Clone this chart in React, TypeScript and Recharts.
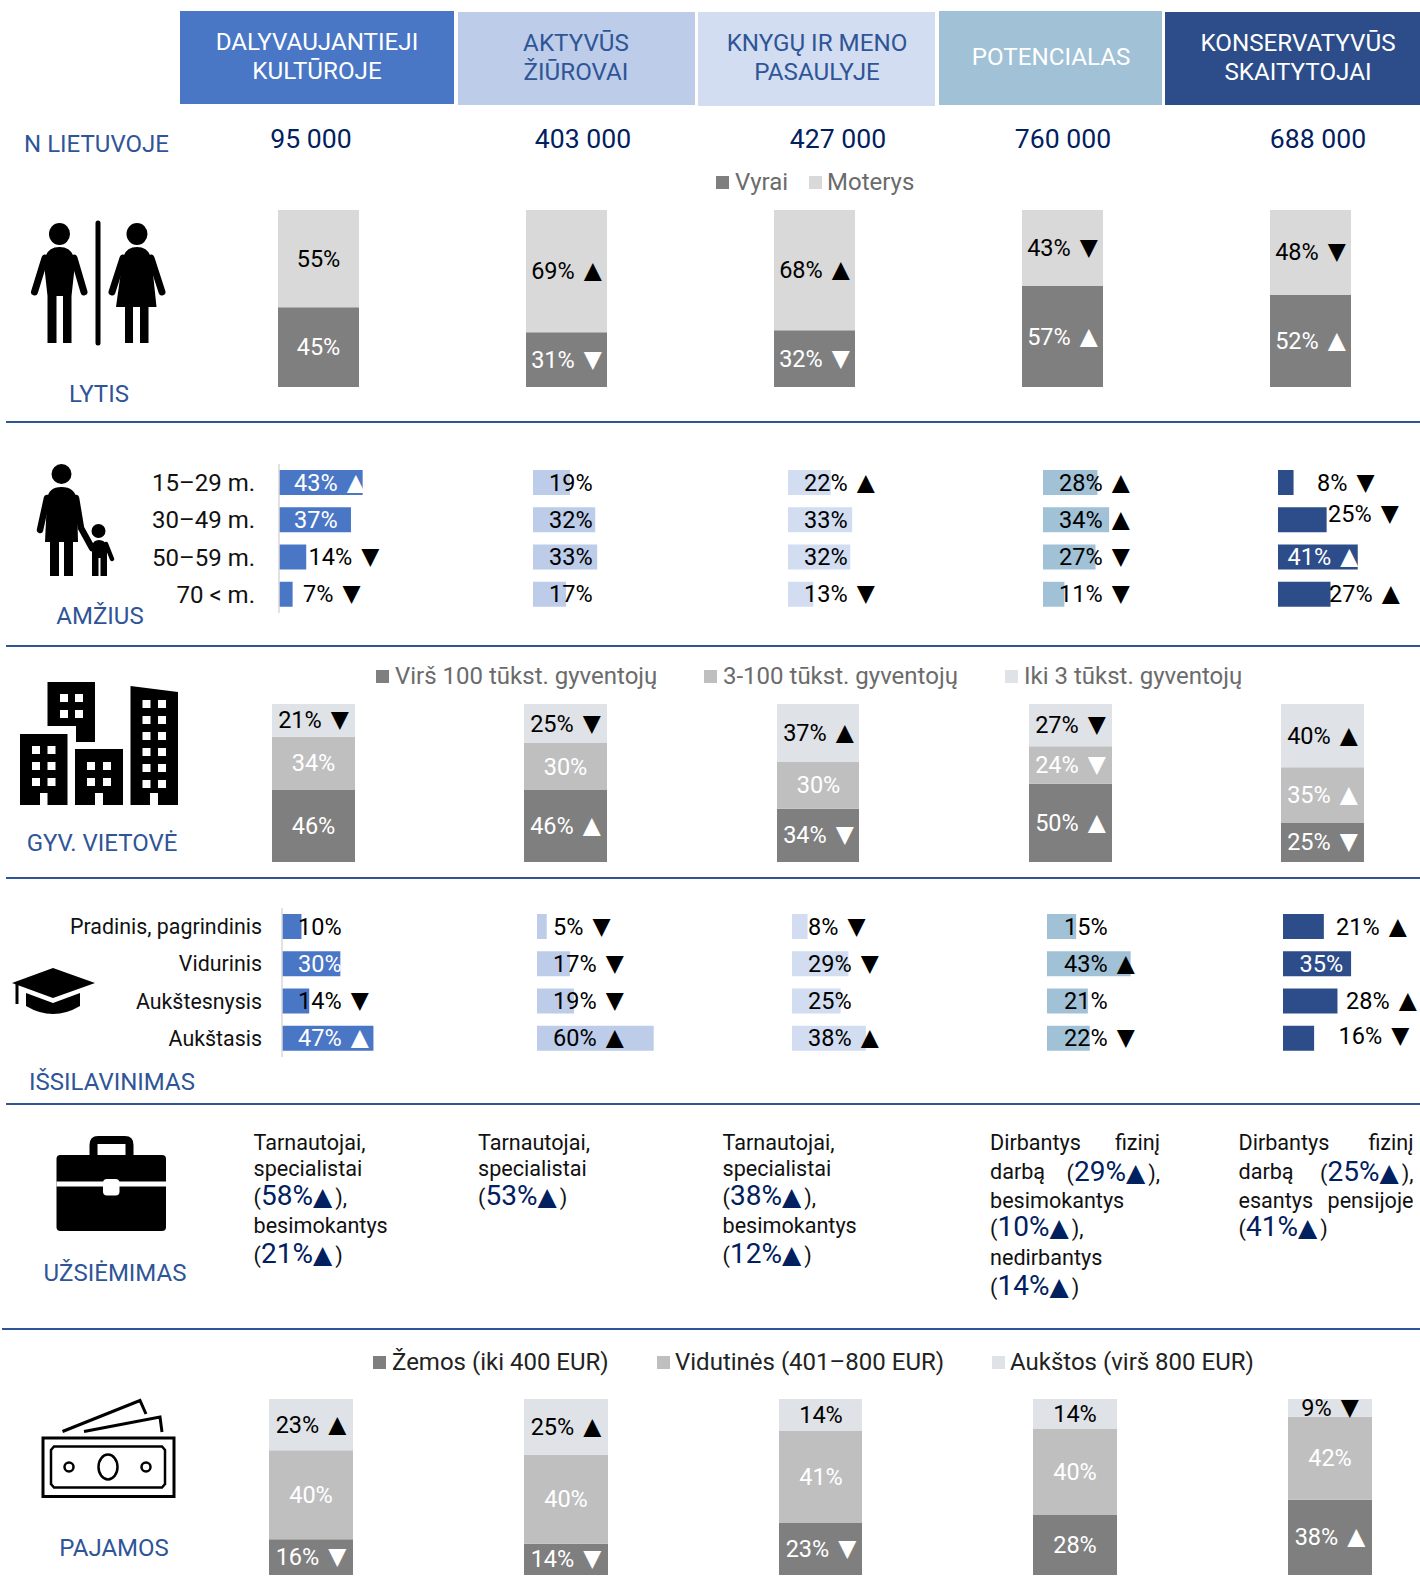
import React from 'react';
import { BarChart, Bar, XAxis, YAxis, LabelList } from 'recharts';

const UP = '▲';
const DOWN = '▼';
const NO = '';

const segments = ['DALYVAUJANTIEJI\nKULTŪROJE', 'AKTYVŪS\nŽIŪROVAI', 'KNYGŲ IR MENO\nPASAULYJE', 'POTENCIALAS', 'KONSERVATYVŪS\nSKAITYTOJAI'];
const populations = ['95 000', '403 000', '427 000', '760 000', '688 000'];

const men = [45, 31, 32, 57, 52];
const women = [55, 69, 68, 43, 48];
const menTrend = [NO, DOWN, DOWN, UP, UP];
const womenTrend = [NO, UP, UP, DOWN, DOWN];

const ageGroups = ['15–29 m.', '30–49 m.', '50–59 m.', '70 < m.'];
const ageValues = [
  [43, 37, 14, 7],
  [19, 32, 33, 17],
  [22, 33, 32, 13],
  [28, 34, 27, 11],
  [8, 25, 41, 27],
];
const ageTrends = [
  [UP, NO, DOWN, DOWN],
  [NO, NO, NO, NO],
  [UP, NO, NO, DOWN],
  [UP, UP, DOWN, DOWN],
  [DOWN, DOWN, UP, UP],
];

const cityBig = [46, 46, 34, 50, 25];
const cityMid = [34, 30, 30, 24, 35];
const citySmall = [21, 25, 37, 27, 40];
const cityBigTrend = [NO, UP, DOWN, UP, DOWN];
const cityMidTrend = [NO, NO, NO, DOWN, UP];
const citySmallTrend = [DOWN, DOWN, UP, DOWN, UP];

const eduLevels = ['Pradinis, pagrindinis', 'Vidurinis', 'Aukštesnysis', 'Aukštasis'];
const eduValues = [
  [10, 30, 14, 47],
  [5, 17, 19, 60],
  [8, 29, 25, 38],
  [15, 43, 21, 22],
  [21, 35, 28, 16],
];
const eduTrends = [
  [NO, NO, DOWN, UP],
  [DOWN, DOWN, DOWN, UP],
  [DOWN, DOWN, NO, UP],
  [NO, UP, NO, DOWN],
  [UP, NO, UP, DOWN],
];

const jobLines = [
  ['Tarnautojai,', 'specialistai', '(58%▲),', 'besimokantys', '(21%▲)'],
  ['Tarnautojai,', 'specialistai', '(53%▲)'],
  ['Tarnautojai,', 'specialistai', '(38%▲),', 'besimokantys', '(12%▲)'],
  ['Dirbantys  fizinį', 'darbą  (29%▲),', 'besimokantys', '(10%▲),', 'nedirbantys', '(14%▲)'],
  ['Dirbantys  fizinį', 'darbą  (25%▲),', 'esantys  pensijoje', '(41%▲)'],
];

const incomeLow = [16, 14, 23, 28, 38];
const incomeMid = [40, 40, 41, 40, 42];
const incomeHigh = [23, 25, 14, 14, 9];
const incomeLowTrend = [DOWN, DOWN, DOWN, NO, UP];
const incomeMidTrend = [NO, NO, NO, NO, NO];
const incomeHighTrend = [UP, UP, NO, NO, DOWN];

// layout
const NAVY = '#2f5597';
const DARK = '#002060';
const TEXT = '#111111';
const FONT = 'Roboto, sans-serif';
const ARROW_FONT = '"DejaVu Sans", sans-serif';
const headerBoxes = [
  { x: 180, y: 11, w: 274, h: 93, fill: '#4a76c6', color: '#ffffff', cx: 317 },
  { x: 458, y: 12, w: 237, h: 93, fill: '#bccce9', color: NAVY, cx: 576 },
  { x: 698, y: 12, w: 237, h: 94, fill: '#d2ddf1', color: NAVY, cx: 817 },
  { x: 939, y: 11, w: 223, h: 94, fill: '#a1c1d6', color: '#ffffff', cx: 1051 },
  { x: 1165, y: 12, w: 255, h: 93, fill: '#2c4d89', color: '#ffffff', cx: 1298 },
];
const populationX = [311, 583, 838, 1063, 1318];
const barFills = ['#4a76c6', '#bccce9', '#d2ddf1', '#a1c1d6', '#2c4d89'];
const ageOrigin = [278.5, 533, 787.5, 1042.5, 1278];
const eduOrigin = [282, 536.5, 792, 1047, 1283];
const ageLabelX = [[15, 15, 29.5, 24], [16, 16, 16, 16], [16, 16, 16, 16], [16, 16, 16, 16], [39, 50, 9.5, 51]];
const ageLabelDy = [[0, 0, 0, 0], [0, 0, 0, 0], [0, 0, 0, 0], [0, 0, 0, 0], [0, -6, 0, 0]];
const ageLabelFill = [[1, 1, 0, 0], [0, 0, 0, 0], [0, 0, 0, 0], [0, 0, 0, 0], [0, 0, 1, 0]];
const eduLabelX = [[16, 16, 16, 16], [16, 16, 16, 16], [16, 16, 16, 16], [17, 17, 17, 17], [53, 16.5, 63, 55.5]];
const eduLabelDy = [[0, 0, 0, 0], [0, 0, 0, 0], [0, 0, 0, 0], [0, 0, 0, 0], [0, 0, 0, -2]];
const eduLabelFill = [[0, 1, 0, 1], [0, 0, 0, 0], [0, 0, 0, 0], [0, 0, 0, 0], [0, 1, 0, 0]];
const jobX = [253.5, 478, 722.5, 990, 1238.5];
const jobWidth = [170, 170, 170, 170, 175];
const jobLineY = [
  [1142, 1168, 1197, 1225, 1255],
  [1142, 1168, 1197],
  [1142, 1168, 1197, 1225, 1255],
  [1142, 1173, 1200, 1228, 1257, 1287],
  [1142, 1173, 1200, 1228],
];
const dividers = [{ y: 422, x: 6 }, { y: 646, x: 6 }, { y: 878, x: 6 }, { y: 1104, x: 6 }, { y: 1329, x: 2 }];

const sectionLabels = [
  { text: 'N LIETUVOJE', cx: 96.5, y: 144 },
  { text: 'LYTIS', cx: 99, y: 394 },
  { text: 'AMŽIUS', cx: 100, y: 616 },
  { text: 'GYV. VIETOVĖ', cx: 102, y: 843 },
  { text: 'IŠSILAVINIMAS', cx: 112, y: 1082 },
  { text: 'UŽSIĖMIMAS', cx: 115, y: 1273 },
  { text: 'PAJAMOS', cx: 114, y: 1548 },
];

const legends = [
  { y: 182, color: '#6b6b6b', items: [
    { text: 'Vyrai', sq: 716, x: 735, fill: '#7f7f7f' },
    { text: 'Moterys', sq: 809, x: 827, fill: '#d9d9d9' },
  ] },
  { y: 676, color: '#6b6b6b', items: [
    { text: 'Virš 100 tūkst. gyventojų', sq: 376, x: 395, fill: '#7f7f7f' },
    { text: '3-100 tūkst. gyventojų', sq: 704, x: 723, fill: '#bfbfbf' },
    { text: 'Iki 3 tūkst. gyventojų', sq: 1005, x: 1024, fill: '#dfe2e6' },
  ] },
  { y: 1362, color: '#222222', items: [
    { text: 'Žemos (iki 400 EUR)', sq: 373, x: 392, fill: '#7f7f7f' },
    { text: 'Vidutinės (401–800 EUR)', sq: 657, x: 675, fill: '#bfbfbf' },
    { text: 'Aukštos (virš 800 EUR)', sq: 992, x: 1010, fill: '#dfe2e6' },
  ] },
];

function PercentText({ x, y, value, trend, fill, anchor }: any) {
  return (
    <text x={x} y={y} textAnchor={anchor} dominantBaseline="central" fontFamily={FONT} fontSize={23.5} fill={fill}>
      {value}%
      {trend ? (
        <tspan dx={9} dy={-1} fontFamily={ARROW_FONT} fontSize={23.5}>
          {trend}
        </tspan>
      ) : null}
    </text>
  );
}

const STACK_PAD = 8;

function StackColumn({ left, top, width, height, series, index }: any) {
  const row: any = { name: 'c' };
  series.forEach((s: any) => {
    row[s.key] = s.values[index];
  });
  return (
    <div style={{ position: 'absolute', left, top: top - STACK_PAD, width, height: height + STACK_PAD * 2 }}>
      <BarChart
        width={width}
        height={height + STACK_PAD * 2}
        data={[row]}
        stackOffset="expand"
        barCategoryGap={0}
        margin={{ top: STACK_PAD, right: 0, bottom: STACK_PAD, left: 0 }}
      >
        <XAxis dataKey="name" hide />
        <YAxis hide domain={[0, 1]} />
        {series.map((s: any) => (
          <Bar key={s.key} dataKey={s.key} stackId="a" fill={s.fill} isAnimationActive={false}>
            <LabelList
              dataKey={s.key}
              content={(p: any) => {
                const box = p.viewBox && p.viewBox.width !== undefined ? p.viewBox : p;
                return (
                  <PercentText
                    x={box.x + box.width / 2}
                    y={box.y + box.height / 2}
                    value={s.values[index]}
                    trend={s.trends[index]}
                    fill={s.labelFill}
                    anchor="middle"
                  />
                );
              }}
            />
          </Bar>
        ))}
      </BarChart>
    </div>
  );
}

const HBAR_WIDTH = 142;

function RowBars({ origin, top, categories, values, trends, fill, labelX, labelDy, labelFill, axisWidth, tickSize, tickGap }: any) {
  const data = categories.map((name: string, i: number) => ({ name, value: values[i] }));
  const lead = axisWidth || 0;
  return (
    <div style={{ position: 'absolute', left: origin - lead, top, width: HBAR_WIDTH + lead, height: 149 }}>
      <BarChart
        width={HBAR_WIDTH + lead}
        height={149}
        data={data}
        layout="vertical"
        barSize={25}
        margin={{ top: 0, right: 0, bottom: 0, left: 0 }}
      >
        <XAxis type="number" domain={[0, 73]} hide />
        {axisWidth ? (
          <YAxis
            type="category"
            dataKey="name"
            width={axisWidth}
            interval={0}
            tickLine={false}
            tickSize={0}
            tickMargin={tickGap}
            axisLine={{ stroke: '#d9d9d9', strokeWidth: 1.5 }}
            tick={{ fontFamily: FONT, fontSize: tickSize, fill: TEXT }}
          />
        ) : (
          <YAxis type="category" dataKey="name" hide />
        )}
        <Bar dataKey="value" fill={fill} isAnimationActive={false}>
          <LabelList
            dataKey="value"
            content={(p: any) => {
              const box = p.viewBox && p.viewBox.width !== undefined ? p.viewBox : p;
              const i = p.index;
              return (
                <PercentText
                  x={box.x + labelX[i]}
                  y={box.y + box.height / 2 + labelDy[i]}
                  value={values[i]}
                  trend={trends[i]}
                  fill={labelFill[i] ? '#ffffff' : '#000000'}
                  anchor="start"
                />
              );
            }}
          />
        </Bar>
      </BarChart>
    </div>
  );
}

function JobLine({ text, x, y, width }: any) {
  const parts = text.split(/\s{2,}/);
  const lift = text.includes('%') ? 2 : 0;
  const renderPart = (part: string, k: number) => (
    <span key={k}>
      {part.split(/(\d+%▲)/).map((bit, j) =>
        /%▲/.test(bit) ? (
          <span key={j} style={{ color: DARK, fontSize: 28 }}>
            {bit.replace('▲', '')}
            <span style={{ fontFamily: ARROW_FONT, fontSize: 25, marginRight: 3 }}>▲</span>
          </span>
        ) : (
          <span key={j}>{bit}</span>
        ),
      )}
    </span>
  );
  return (
    <div
      style={{
        position: 'absolute',
        left: x,
        top: y - 20 - lift,
        width,
        height: 40,
        display: 'flex',
        alignItems: 'center',
        justifyContent: 'space-between',
        fontSize: 21.6,
        color: TEXT,
        whiteSpace: 'nowrap',
      }}
    >
      {parts.map(renderPart)}
    </div>
  );
}

function Icons() {
  const cityWindows = [
    [60, 694], [75, 694], [60, 710], [75, 710],
    [32, 746], [47.5, 746], [32, 762], [47.5, 762], [32, 778], [47.5, 778],
    [87, 762], [103, 762], [87, 778], [103, 778],
    [142.5, 700], [158, 700], [142.5, 716], [158, 716], [142.5, 732], [158, 732],
    [142.5, 748], [158, 748], [142.5, 764], [158, 764], [142.5, 780], [158, 780],
  ];
  return (
    <svg width={1420} height={1578} style={{ position: 'absolute', left: 0, top: 0, pointerEvents: 'none' }}>
      {/* man, divider, woman */}
      <ellipse cx={59.5} cy={234} rx={10.5} ry={11} />
      <path d="M44 264 Q45 247 59.5 247 Q74 247 75 264 L71.5 296 V343 H63 V296 H56.5 V343 H47.5 V296 Z" />
      <path d="M45 258 L34.5 292 M74 258 L84 292" stroke="#000" strokeWidth={7} strokeLinecap="round" />
      <path d="M98 223 V343" stroke="#000" strokeWidth={5} strokeLinecap="round" />
      <ellipse cx={137} cy={234} rx={10.5} ry={11} />
      <path d="M122 264 Q123 247 137 247 Q151 247 152 264 L156.5 307 H148.5 V343 H140 V307 H133 V343 H125 V307 H116 Z" />
      <path d="M123 258 L112 292 M151 258 L162 292" stroke="#000" strokeWidth={7} strokeLinecap="round" />
      {/* mother and child */}
      <circle cx={61.5} cy={474} r={10} />
      <path d="M47 500 Q48 487 61.5 487 Q75 487 77 500 L78 542 H73 V576 H64 V542 H59 V576 H50 V542 H45 Z" />
      <path d="M47 498 L40 530 M76 498 L81 528 L92 548" stroke="#000" strokeWidth={6.5} strokeLinecap="round" fill="none" />
      <circle cx={98.5} cy={531} r={7} />
      <path d="M92 546 Q93 540 99 540 Q105 540 107 546 V576 H100.5 V558 H98.5 V576 H92 Z" />
      <path d="M106 544 L112 559" stroke="#000" strokeWidth={4.5} strokeLinecap="round" />
      {/* buildings */}
      <path d="M47.5 682 H95 V742 H76 V726 H47.5 Z" />
      <path d="M20 734 H67.5 V805 H47.5 V793 H40 V805 H20 Z" />
      <path d="M75 749 H123 V805 H103 V793 H95 V805 H75 Z" />
      <path d="M130.5 686 L178 692 V805 H158 V793 H150 V805 H130.5 Z" />
      {cityWindows.map(([x, y], i) => (
        <rect key={i} x={x} y={y} width={8} height={8} fill="#fff" />
      ))}
      {/* mortarboard */}
      <path d="M12 983 L53 968 L95 983 L53 998 Z" />
      <path d="M26 993 L53 1003 L80 993 V1006 Q53 1022 26 1006 Z" />
      <path d="M17 984 V1004" stroke="#000" strokeWidth={3} />
      {/* briefcase */}
      <rect x={56.5} y={1155} width={109.5} height={76} rx={4} />
      <rect x={56.5} y={1181.5} width={109.5} height={5} fill="#fff" />
      <path d="M93.5 1156 V1145 Q93.5 1140 98 1140 H125 Q129.5 1140 129.5 1145 V1156" fill="none" stroke="#000" strokeWidth={8} />
      <rect x={103} y={1179} width={16.5} height={16.5} rx={4} fill="#fff" />
      {/* banknotes */}
      <rect x={43} y={1438} width={131} height={58.5} fill="none" stroke="#000" strokeWidth={3} />
      <path d="M54 1446.5 H162 L165 1450 V1484 L162 1487.5 H54 L51 1484 V1450 Z" fill="none" stroke="#000" strokeWidth={2.5} />
      <ellipse cx={108} cy={1467} rx={9.5} ry={12.5} fill="none" stroke="#000" strokeWidth={2.5} />
      <circle cx={69} cy={1467} r={4.5} fill="none" stroke="#000" strokeWidth={2.5} />
      <circle cx={146} cy={1467} r={4.5} fill="none" stroke="#000" strokeWidth={2.5} />
      <path d="M62.5 1431.5 L140 1400.5 L146 1414 M84 1431.5 L160 1417 L162 1432" fill="none" stroke="#000" strokeWidth={3} />
    </svg>
  );
}

export default function App() {
  const genderSeries = [
    { key: 'men', values: men, trends: menTrend, fill: '#7f7f7f', labelFill: '#ffffff' },
    { key: 'women', values: women, trends: womenTrend, fill: '#d9d9d9', labelFill: '#000000' },
  ];
  const citySeries = [
    { key: 'big', values: cityBig, trends: cityBigTrend, fill: '#7f7f7f', labelFill: '#ffffff' },
    { key: 'mid', values: cityMid, trends: cityMidTrend, fill: '#bfbfbf', labelFill: '#ffffff' },
    { key: 'small', values: citySmall, trends: citySmallTrend, fill: '#dfe2e6', labelFill: '#000000' },
  ];
  const incomeSeries = [
    { key: 'low', values: incomeLow, trends: incomeLowTrend, fill: '#7f7f7f', labelFill: '#ffffff' },
    { key: 'mid', values: incomeMid, trends: incomeMidTrend, fill: '#bfbfbf', labelFill: '#ffffff' },
    { key: 'high', values: incomeHigh, trends: incomeHighTrend, fill: '#dfe2e6', labelFill: '#000000' },
  ];

  return (
    <div style={{ position: 'absolute', left: 0, top: 0, width: 1420, height: 1578, overflow: 'hidden', background: '#fff', fontFamily: FONT }}>
      {headerBoxes.map((b, i) => (
        <div
          key={i}
          style={{
            position: 'absolute',
            left: b.x,
            top: b.y,
            width: b.w,
            height: b.h,
            background: b.fill,
          }}
        >
          <div
            style={{
              position: 'absolute',
              left: b.cx - b.x - 150,
              width: 300,
              top: -1,
              height: b.h,
              display: 'flex',
              alignItems: 'center',
              justifyContent: 'center',
              textAlign: 'center',
              whiteSpace: 'pre-line',
              color: b.color,
              fontSize: 24.2,
              lineHeight: '29px',
            }}
          >
            {segments[i]}
          </div>
        </div>
      ))}

      {populations.map((p, i) => (
        <div
          key={p}
          style={{
            position: 'absolute',
            left: populationX[i] - 100,
            width: 200,
            top: 139 - 20,
            lineHeight: '40px',
            textAlign: 'center',
            fontSize: 26.6,
            color: DARK,
          }}
        >
          {p}
        </div>
      ))}

      {sectionLabels.map((s) => (
        <div
          key={s.text}
          style={{
            position: 'absolute',
            left: s.cx - 120,
            width: 240,
            top: s.y - 20,
            lineHeight: '40px',
            textAlign: 'center',
            fontSize: 24,
            color: NAVY,
          }}
        >
          {s.text}
        </div>
      ))}

      {legends.map((l, li) =>
        l.items.map((it) => (
          <React.Fragment key={it.text + li}>
            <div style={{ position: 'absolute', left: it.sq, top: l.y - 6.5, width: 13, height: 13, background: it.fill }} />
            <div
              style={{
                position: 'absolute',
                left: it.x,
                top: l.y - 20,
                lineHeight: '40px',
                fontSize: 24,
                color: l.color,
                whiteSpace: 'nowrap',
              }}
            >
              {it.text}
            </div>
          </React.Fragment>
        )),
      )}

      {dividers.map((d) => (
        <div key={d.y} style={{ position: 'absolute', left: d.x, right: 0, top: d.y - 1, height: 2, background: NAVY }} />
      ))}

      {[278, 526, 774, 1022, 1270].map((x, i) => (
        <StackColumn key={i} left={x} top={210} width={81} height={177} series={genderSeries} index={i} />
      ))}
      {[272, 524, 776.5, 1029, 1281].map((x, i) => (
        <StackColumn key={i} left={x} top={704} width={82.5} height={158} series={citySeries} index={i} />
      ))}
      {[269, 524, 778.5, 1033, 1288].map((x, i) => (
        <StackColumn key={i} left={x} top={1399} width={83.5} height={176} series={incomeSeries} index={i} />
      ))}

      {ageValues.map((values, i) => (
        <RowBars
          key={i}
          origin={ageOrigin[i]}
          top={464}
          categories={ageGroups}
          values={values}
          trends={ageTrends[i]}
          fill={barFills[i]}
          labelX={ageLabelX[i]}
          labelDy={ageLabelDy[i]}
          labelFill={ageLabelFill[i]}
          axisWidth={i === 0 ? 140 : 0}
          tickSize={24}
          tickGap={24}
        />
      ))}
      {eduValues.map((values, i) => (
        <RowBars
          key={i}
          origin={eduOrigin[i]}
          top={908}
          categories={eduLevels}
          values={values}
          trends={eduTrends[i]}
          fill={barFills[i]}
          labelX={eduLabelX[i]}
          labelDy={eduLabelDy[i]}
          labelFill={eduLabelFill[i]}
          axisWidth={i === 0 ? 230 : 0}
          tickSize={21.4}
          tickGap={20}
        />
      ))}

      {jobLines.map((lines, c) =>
        lines.map((text, l) => (
          <JobLine key={c + '-' + l} text={text} x={jobX[c]} y={jobLineY[c][l]} width={jobWidth[c]} />
        )),
      )}

      <Icons />
    </div>
  );
}
